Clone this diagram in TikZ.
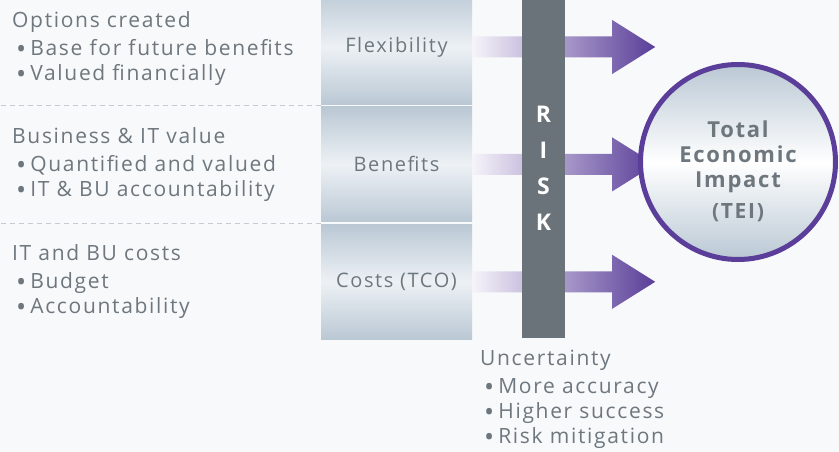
\documentclass[tikz,border=0pt]{standalone}
\usepackage{fontspec}
\setmainfont{Open Sans}[LetterSpace=8]
\usepackage{xcolor}
\usetikzlibrary{positioning}

\definecolor{txtgrey}{HTML}{6E777E}
\definecolor{riskgrey}{HTML}{6A7379}
\definecolor{teipurple}{HTML}{5A3E99}
\definecolor{arrowpale}{HTML}{F6F4FA}
\definecolor{boxblue}{HTML}{BAC8D4}
\definecolor{boxpale}{HTML}{EDF1F5}
\definecolor{sepgrey}{HTML}{C5CBD1}
\definecolor{bgtint}{HTML}{F8F9FB}

\newcommand{\bul}{\hspace*{4pt}\raisebox{-3pt}{\fontsize{27}{27}\selectfont\textbullet}\hspace{4pt}}

\begin{document}
\begin{tikzpicture}[x=1pt, y=-1pt,
    box/.style={rectangle, minimum width=151pt, minimum height=115pt, inner sep=0pt,
      top color=boxblue, bottom color=boxblue, middle color=boxpale,
      text=txtgrey, font=\fontsize{20}{24}\selectfont},
    listtext/.style={anchor=north west, inner sep=0pt, align=left, text=txtgrey,
      font=\fontsize{21}{25}\selectfont},
    sepline/.style={sepgrey, dashed, dash pattern=on 5pt off 4pt, line width=1pt},
    riskbar/.style={rectangle, fill=riskgrey, minimum width=43pt, minimum height=340pt,
      inner sep=0pt, text=white, align=center, font=\bfseries\fontsize{23}{36}\selectfont},
    arrowfill/.style={left color=arrowpale, right color=teipurple},
    teicircle/.style={circle, draw=teipurple, line width=5pt, minimum size=195pt,
      top color=boxblue, bottom color=boxblue, middle color=white},
    teitext/.style={align=center, text=txtgrey, inner sep=0pt,
      font=\bfseries\fontsize{22}{25}\selectfont}
  ]
  \useasboundingbox (0,0) rectangle (839,452);
  \fill[bgtint] (0,0) rectangle (839,452);

  % value boxes
  \node[box] (flex) at (396.5,47) {Flexibility};
  \node[box, below=2pt of flex] (bene) {Benefits};
  \node[box, below=2pt of bene] (cost) {Costs (TCO)};

  % separators
  \draw[sepline] ([yshift=-1pt]flex.south west) -- ++(-321,0);
  \draw[sepline] ([yshift=-1pt]bene.south west) -- ++(-321,0);

  % arrows (behind the risk bar)
  \foreach \b in {flex,bene,cost}
    \shade[arrowfill] ([yshift=10.5pt]\b.east) -- ++(140,0) -- ++(0,-16.5)
      -- ++(43,27) -- ++(-43,27) -- ++(0,-16.5) -- ++(-140,0) -- cycle;

  % risk
  \node[riskbar] (risk) at (543.5,168) {R\\I\\S\\K};

  % TEI
  \node[teicircle] (tei) at (738,162) {};
  \node[teitext] (teitxt) at ([yshift=-9pt]tei.center)
    {Total\\Economic\\Impact\\[6pt]{\fontsize{21}{22}\selectfont(TEI)}};

  % lists
  \node[listtext] (opts) at (12,11)
    {Options created\\[3pt]\bul Base for future benefits\\\bul Valued financially};
  \node[listtext] (biz) at (12,127)
    {Business \& IT value\\[3pt]\bul Quantified and valued\\\bul IT \& BU accountability};
  \node[listtext] (itbu) at (12,244)
    {IT and BU costs\\[3pt]\bul Budget\\\bul Accountability};
  \node[listtext] (unc) at (480,350)
    {Uncertainty\\[3pt]\bul More accuracy\\\bul Higher success\\\bul Risk mitigation};
\end{tikzpicture}
\end{document}
